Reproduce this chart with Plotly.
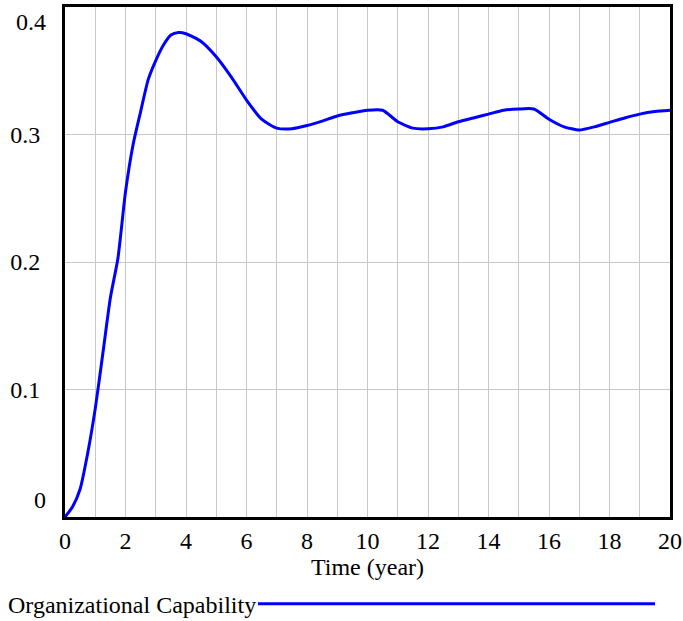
import plotly.graph_objects as go

# Organizational Capability at irregular times
time_year = [
    0, 0.25, 0.5, 0.75, 1.0, 1.25, 1.5, 1.75, 2.0, 2.25, 2.5, 2.75,
    3.0, 3.25, 3.5, 3.75, 4.0, 4.5, 5.0, 5.5, 6.0, 6.5, 7.0, 7.5,
    8.0, 8.5, 9.0, 9.5, 10.0, 10.5, 11.0, 11.5, 12.0, 12.5, 13.0, 13.5,
    14.0, 14.5, 15.0, 15.5, 16.0, 16.5, 17.0, 17.5, 18.0, 18.5, 19.0, 19.5, 20.0,
]
capability = [
    0.0, 0.008, 0.022, 0.050, 0.085, 0.128, 0.172, 0.203, 0.255, 0.292, 0.318, 0.343,
    0.358, 0.370, 0.378, 0.380, 0.379, 0.373, 0.361, 0.345, 0.327, 0.312, 0.305, 0.3045,
    0.307, 0.3105, 0.3145, 0.317, 0.319, 0.319, 0.310, 0.305, 0.3045, 0.306, 0.310, 0.313,
    0.316, 0.319, 0.320, 0.320, 0.312, 0.306, 0.3035, 0.306, 0.3095, 0.313, 0.316, 0.318, 0.319,
]
x_ticks = list(range(0, 21, 2))
y_ticks = [0.1, 0.2, 0.3]
series_name = "Organizational Capability"
x_title = "Time (year)"

FONT = "Liberation Serif"
FS = 24
BLUE = "#0000ff"
GRID = "#c8c8c8"

fig = go.Figure()
fig.add_trace(
    go.Scatter(
        x=time_year,
        y=capability,
        mode="lines",
        line={"color": BLUE, "width": 3, "shape": "spline", "smoothing": 0.6},
        name=series_name,
        showlegend=False,
    )
)

fig.update_layout(
    width=683,
    height=621,
    margin={"l": 65, "r": 13, "t": 7, "b": 104},
    paper_bgcolor="white",
    plot_bgcolor="white",
    font={"family": FONT, "size": FS, "color": "black"},
    xaxis={
        "range": [0, 20],
        "tickvals": x_ticks,
        "ticks": "",
        "ticklabelstandoff": 0,
        "showgrid": True,
        "gridcolor": GRID,
        "gridwidth": 1,
        "minor": {"dtick": 1, "showgrid": True, "gridcolor": GRID, "gridwidth": 1},
        "showline": True,
        "linecolor": "black",
        "linewidth": 3,
        "mirror": True,
        "zeroline": False,
        "automargin": False,
        "title": {"text": x_title, "standoff": 2, "font": {"size": FS}},
    },
    yaxis={
        "range": [0, 0.4],
        "tickvals": y_ticks,
        "ticktext": [str(v) for v in y_ticks],
        "ticks": "",
        "ticklabelstandoff": 17,
        "showgrid": True,
        "gridcolor": GRID,
        "gridwidth": 1,
        "showline": True,
        "linecolor": "black",
        "linewidth": 3,
        "mirror": True,
        "zeroline": False,
        "automargin": False,
    },
)

# end labels of the y axis sit inside the frame, as in the original
for val, shift in ((0, 17), (0.4, -15)):
    fig.add_annotation(
        x=0, xref="paper", xanchor="right", xshift=-17,
        y=val, yref="y", yshift=shift,
        text=str(val), showarrow=False, font={"size": FS},
    )

# legend row: label followed by a line sample
fig.add_annotation(
    x=0, xref="paper", xanchor="right", xshift=-60 + 253,
    y=0, yref="paper", yshift=-88, yanchor="middle",
    text=series_name, showarrow=False, font={"size": FS},
)
fig.add_shape(
    type="line", xref="paper", yref="paper",
    x0=(258 - 65) / 605, x1=(655 - 65) / 605, y0=-0.17, y1=-0.17,
    line={"color": BLUE, "width": 3},
)

fig.write_html(
    "out.html",
    config={"displayModeBar": False},
    post_script="document.body.style.margin='0';",
)
